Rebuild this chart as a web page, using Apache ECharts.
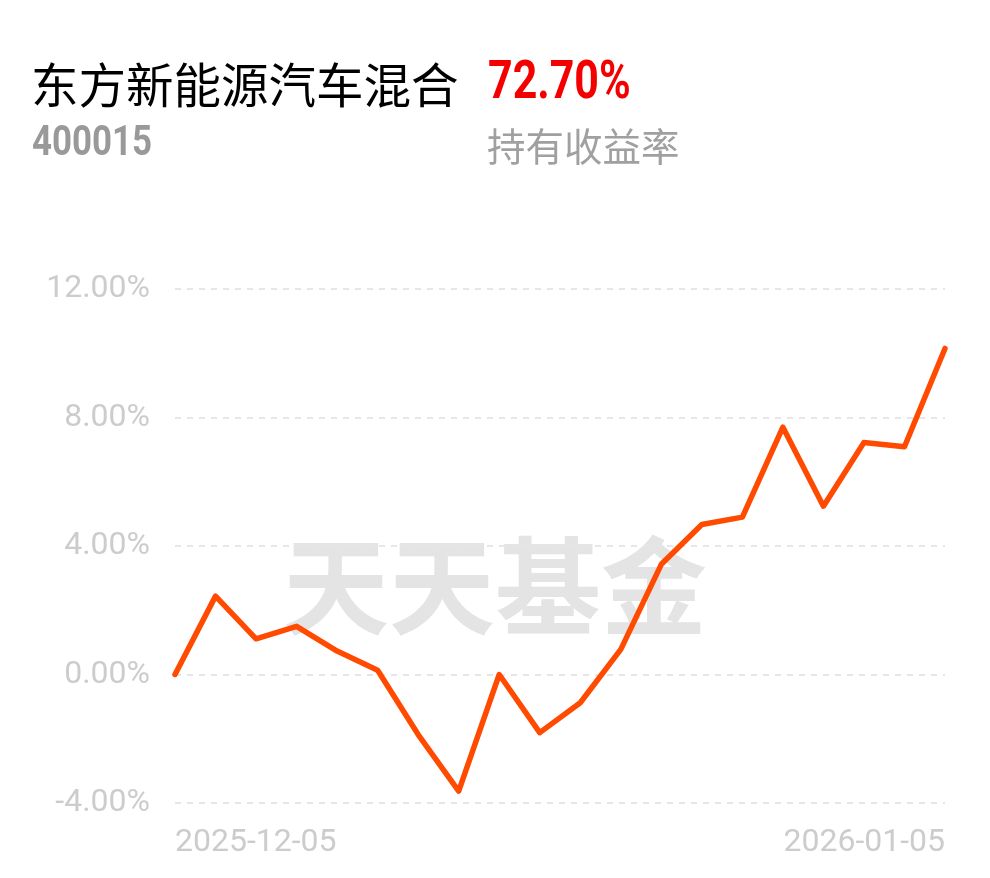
<!DOCTYPE html>
<html>
<head>
<meta charset="utf-8">
<script src="https://cdn.jsdelivr.net/npm/echarts@6/dist/echarts.min.js"></script>
<style>
  html, body { margin: 0; padding: 0; background: #fff; }
  #chart { width: 990px; height: 878px; }
</style>
</head>
<body>
<div id="chart"></div>
<script>
const fundName = '东方新能源汽车混合'
const fundCode = '400015'
const holdReturn = '72.70%'
const holdLabel = '持有收益率'

const dates = [
    '2025-12-05', '2025-12-08', '2025-12-09', '2025-12-10', '2025-12-11', '2025-12-12',
    '2025-12-15', '2025-12-16', '2025-12-17', '2025-12-18', '2025-12-19',
    '2025-12-22', '2025-12-23', '2025-12-24', '2025-12-25', '2025-12-26',
    '2025-12-29', '2025-12-30', '2025-12-31', '2026-01-05'
]
const returns = [
    0.00, 2.44, 1.11, 1.50, 0.73, 0.13, -1.87, -3.63, 0.00, -1.81,
    -0.88, 0.78, 3.43, 4.67, 4.90, 7.70, 5.24, 7.22, 7.09, 10.15
]

const myChart = echarts.init(document.getElementById('chart'))
const lastIdx = dates.length - 1

const option = {
    backgroundColor: '#fff',
    animation: false,
    grid: {
        left: 175,
        right: 45,
        top: 289,
        bottom: 75
    },
    graphic: [
        {
            type: 'text',
            x: 31,
            y: 85,
            z: 10,
            style: {
                text: fundName,
                fill: '#000',
                font: '47.5px "Noto Sans CJK SC"',
                verticalAlign: 'middle'
            }
        },
        {
            // narrow bold digits, squeezed horizontally
            type: 'text',
            x: 488,
            y: 85,
            scaleX: 0.81,
            z: 10,
            style: {
                text: holdReturn,
                fill: '#f50000',
                font: 'bold 53px Roboto',
                verticalAlign: 'middle'
            }
        },
        {
            type: 'text',
            x: 32,
            y: 144,
            scaleX: 0.83,
            z: 10,
            style: {
                text: fundCode,
                fill: '#999',
                font: 'bold 42px Roboto',
                verticalAlign: 'middle'
            }
        },
        {
            type: 'text',
            x: 487,
            y: 146,
            z: 10,
            style: {
                text: holdLabel,
                fill: '#a0a0a0',
                font: '38.5px "Noto Sans CJK SC"',
                verticalAlign: 'middle'
            }
        },
        {
            // watermark
            type: 'text',
            x: 495,
            y: 586,
            z: 0,
            style: {
                text: '天天基金',
                fill: '#e4e4e4',
                font: 'bold 106px "Noto Sans CJK SC"',
                align: 'center',
                verticalAlign: 'middle'
            }
        }
    ],
    xAxis: {
        type: 'category',
        data: dates,
        boundaryGap: false,
        axisLine: { show: false },
        axisTick: { show: false },
        axisLabel: {
            interval: (index) => index === 0 || index === lastIdx,
            showMinLabel: true,
            showMaxLabel: true,
            alignMinLabel: 'left',
            alignMaxLabel: 'right',
            color: '#cccccc',
            fontSize: 32,
            fontFamily: 'Roboto',
            margin: 24
        }
    },
    yAxis: {
        type: 'value',
        min: -4,
        max: 12,
        interval: 4,
        axisLine: { show: false },
        axisTick: { show: false },
        axisLabel: {
            formatter: (v) => v.toFixed(2) + '%',
            color: '#cccccc',
            fontSize: 32,
            fontFamily: 'Roboto',
            margin: 25
        },
        splitLine: {
            lineStyle: {
                color: '#e6e6e6',
                width: 2,
                type: [6, 6]
            }
        }
    },
    series: [
        {
            type: 'line',
            data: returns,
            symbol: 'none',
            z: 5,
            lineStyle: {
                color: '#ff4a00',
                width: 5.5,
                cap: 'round',
                join: 'round'
            }
        }
    ]
}
myChart.setOption(option)
window.addEventListener('resize', function () {
    myChart.resize()
})
</script>
</body>
</html>
